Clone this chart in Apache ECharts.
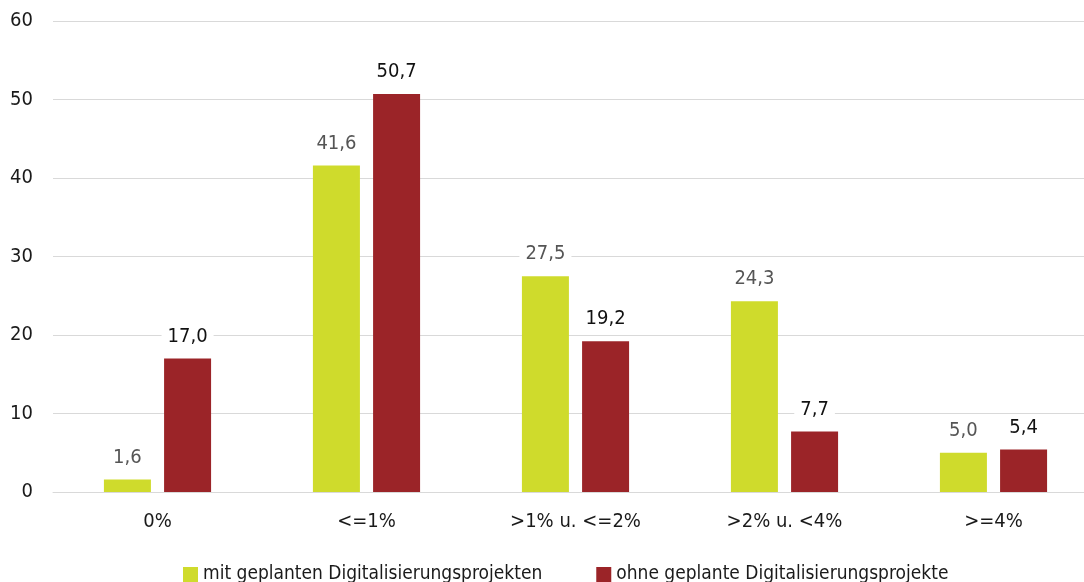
<!DOCTYPE html>
<html><head><meta charset="utf-8">
<script src="https://cdn.jsdelivr.net/npm/echarts@6/dist/echarts.min.js"></script>
<style>html,body{margin:0;padding:0;background:#fff;overflow:hidden}#c{width:1084px;height:582px}</style>
</head><body><div id="c"></div>
<script>
const categories = ['0%', '<=1%', '>1% u. <=2%', '>2% u. <4%', '>=4%'];
const seriesNames = ['mit geplanten Digitalisierungsprojekten', 'ohne geplante Digitalisierungsprojekte'];
const withProjects = [1.6, 41.6, 27.5, 24.3, 5.0];
const withoutProjects = [17.0, 50.7, 19.2, 7.7, 5.4];

const font = '"DejaVu Sans Condensed", "Liberation Sans Narrow", sans-serif';
const chart = echarts.init(document.getElementById('c'));
const fmt = p => p.value.toFixed(1).replace('.', ',');
chart.setOption({
  animation: false,
  grid: { left: 53, width: 1045, top: 21, bottom: 90, outerBoundsMode: 'none', containLabel: false },
  legend: {
    bottom: -7, left: 178, itemWidth: 15, itemHeight: 15, itemGap: 54, icon: 'rect',
    textStyle: { fontFamily: font, fontSize: 19, color: '#1a1a1a' }
  },
  xAxis: {
    type: 'category', data: categories,
    axisLine: { lineStyle: { color: '#d9d9d9' } }, axisTick: { show: false },
    axisLabel: { fontFamily: font, fontSize: 20, color: '#1a1a1a', margin: 20 }
  },
  yAxis: {
    type: 'value', min: 0, max: 60, interval: 10,
    splitLine: { lineStyle: { color: '#d9d9d9' } },
    axisLabel: { fontFamily: font, fontSize: 20, color: '#1a1a1a', margin: 20 }
  },
  series: [
    { name: seriesNames[0], type: 'bar', data: withProjects, barWidth: 47, barGap: '28%',
      itemStyle: { color: '#cfdb2c' },
      label: { show: true, position: 'top', distance: 10, formatter: fmt, fontFamily: font, fontSize: 20, color: '#555',
        backgroundColor: '#fff', padding: [2, 6] } },
    { name: seriesNames[1], type: 'bar', data: withoutProjects, barWidth: 47,
      itemStyle: { color: '#9b2428' },
      label: { show: true, position: 'top', distance: 10, formatter: fmt, fontFamily: font, fontSize: 20, color: '#111',
        backgroundColor: '#fff', padding: [2, 6] } }
  ]
});
</script></body></html>
